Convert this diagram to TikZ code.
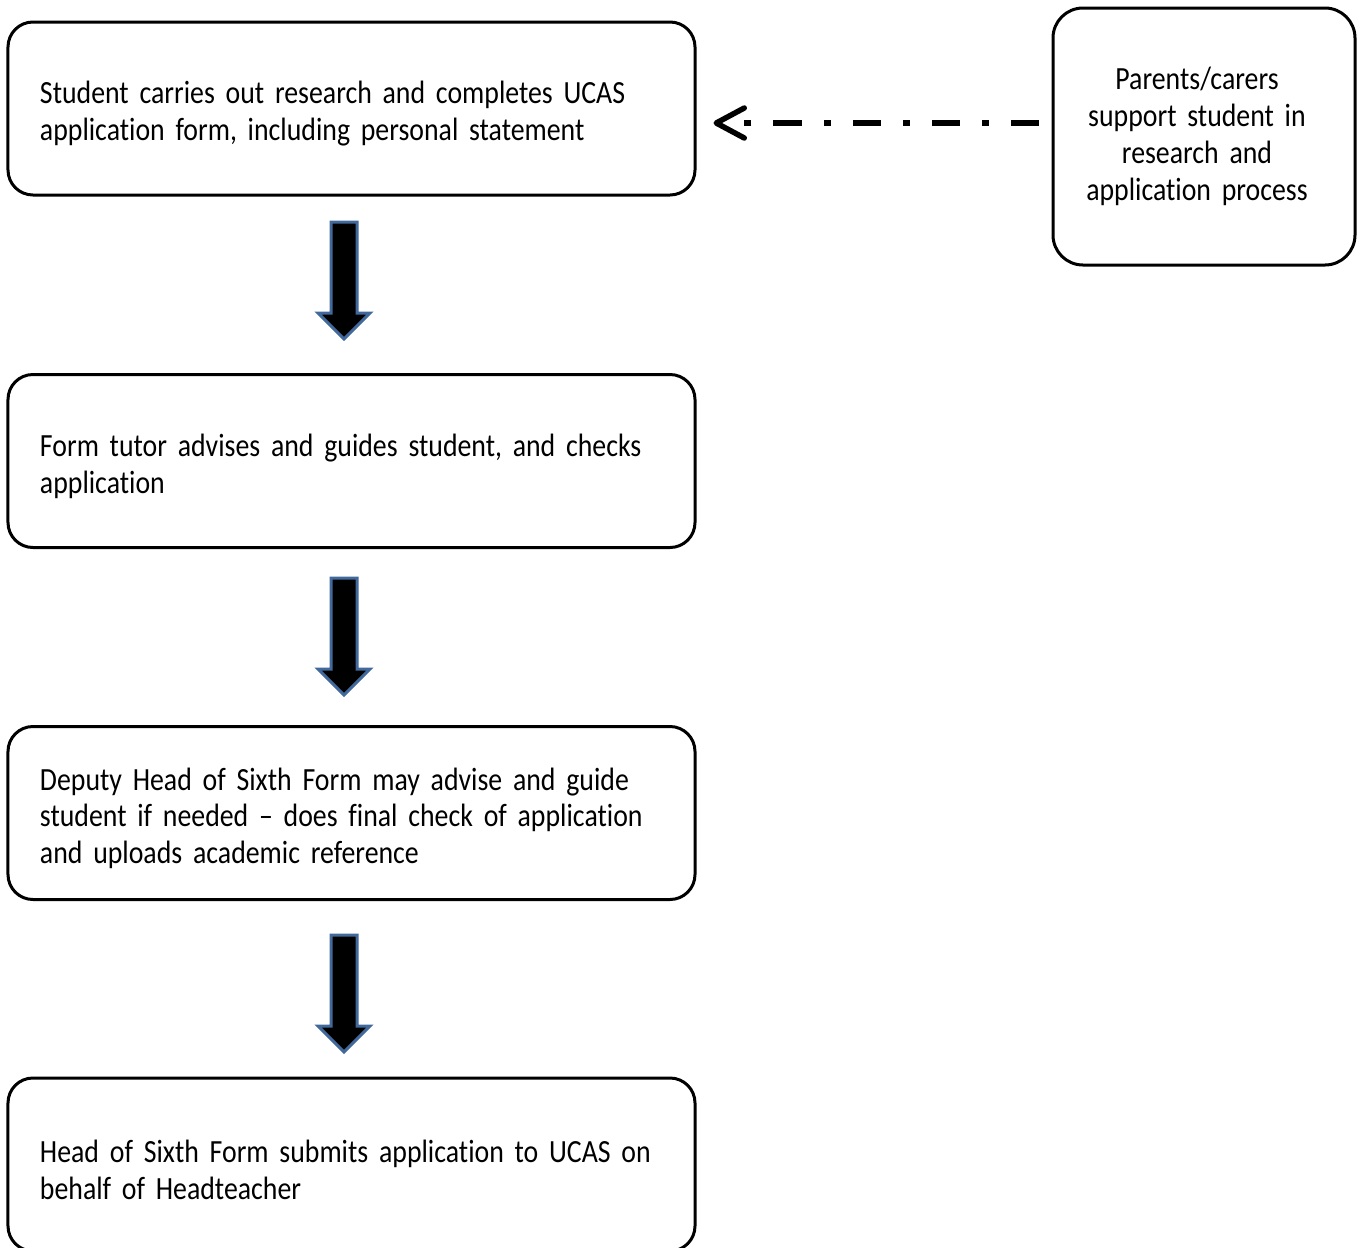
\documentclass[tikz,border=0pt]{standalone}
\usepackage{fontspec}
\setmainfont{Carlito}[Ligatures=NoCommon, FakeStretch=0.86]
\usetikzlibrary{arrows.meta,positioning,calc,shapes.arrows}
\definecolor{arrowblue}{RGB}{65,105,155}
\newcommand\flowfont{\fontsize{18.4}{21}\selectfont\hyphenpenalty=10000\relax}
\tikzset{
  >=Stealth,
  every node/.append style={font=\flowfont},
}
\tikzset{
  box/.style={draw, line width=0.6mm, rounded corners=5mm, fill=white, align=left,
    inner xsep=6.4mm, inner ysep=0pt, text width=124.6mm, minimum height=34.6mm,
    execute at begin node={\rule{0pt}{6.6mm}}},
  sidebox/.style={draw, line width=0.6mm, rounded corners=6mm, fill=white, align=center,
    inner sep=0pt, text width=55mm, minimum width=60.4mm, minimum height=51.4mm},
  downarrow/.style={single arrow, draw=arrowblue, fill=black, line width=0.6mm, rotate=-90,
    inner xsep=0pt, inner ysep=2.3mm, minimum height=23.4mm, single arrow head extend=2.6mm}
}

\begin{document}
\begin{tikzpicture}[
  x=0.2mm, y=-0.2mm,
  support/.style={line width=1.2mm, dash pattern=on 5.6mm off 4.4mm on 1.4mm off 4.4mm,
    -{Straight Barb[length=5.6mm, width=6mm, line width=1.1mm, round]}}
]
\useasboundingbox (0,0) rectangle (1365,1248);

\node[box] (research) at (351.5,108.5)
  {Student carries out research and completes UCAS\\application form, including personal statement};
\node[box] (tutor) at (351.5,461)
  {Form tutor advises and guides student, and checks\\application};
\node[box] (deputy) at (351.5,813)
  {Deputy Head of Sixth Form may advise and guide\\student if needed -- does final check of application\\and uploads academic reference};
\node[box] (head) at (351.5,1164.5)
  {Head of Sixth Form submits application to UCAS on\\behalf of Headteacher};

\node[sidebox] (parents) at (1204,136.5)
  {\hspace*{-2.8mm}Parents/carers\\\hspace*{-2.8mm}support student in\\\hspace*{-2.8mm}research and\\\hspace*{-2.8mm}application process};

% block arrows between the stages
\node[downarrow] (step1) at (344,274) {};
\node[downarrow] (step2) at (344,630) {};
\node[downarrow] (step3) at (344,987) {};

\draw[support, shorten <=2.6mm, shorten >=3.4mm]
  ([yshift=2.7mm]parents.west) -- ([yshift=2.7mm]parents.west -| research.east);

\end{tikzpicture}
\end{document}
